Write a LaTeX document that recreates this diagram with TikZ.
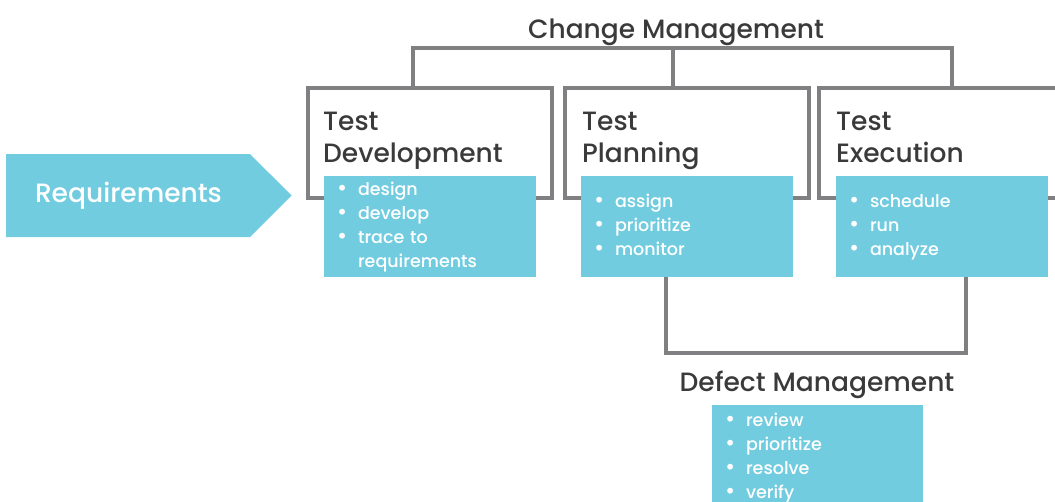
\documentclass[tikz,border=0pt]{standalone}
\usepackage{fontspec}
\setmainfont{Poppins Medium}
\usetikzlibrary{positioning,shapes.symbols}

\definecolor{taskblue}{RGB}{114,204,224}
\definecolor{framegray}{RGB}{128,128,130}
\definecolor{labelgray}{RGB}{58,58,58}

% one bullet line, and a follow-on line under the same bullet
\newcommand{\task}[1]{\strut\makebox[21pt][l]{\fontsize{22}{24}\selectfont\textbullet}#1}
\newcommand{\more}[1]{\strut\hspace*{21pt}#1}

\tikzset{
  stagebox/.style={draw=framegray, line width=4pt, anchor=north west,
    minimum width=244pt, minimum height=110pt, inner sep=0, outer sep=0},
  stagetitle/.style={anchor=north west, inner sep=0, align=left,
    text=labelgray, font=\fontsize{26.5}{32}\selectfont},
  taskbox/.style={fill=taskblue, anchor=north west, text=white, align=left,
    text width=186pt, inner xsep=13pt, inner ysep=0, outer sep=0,
    minimum height=101pt, font=\fontsize{17.5}{24}\selectfont},
  bracket/.style={draw=framegray, line width=4pt},
  heading/.style={anchor=base, inner sep=0, text=labelgray,
    font=\fontsize{26.5}{32}\selectfont},
}

\begin{document}
\begin{tikzpicture}[x=1pt, y=-1pt]
  \useasboundingbox (0,0) rectangle (1055,501);
  \clip (0,0) rectangle (1055,501);

  % input arrow
  \node[signal, signal to=east, signal pointer angle=90, fill=taskblue,
    text=white, anchor=west, minimum height=83pt, text width=186pt,
    align=left, inner xsep=29pt, outer sep=0,
    font=\fontsize{26.5}{32}\selectfont] (req) at (6,195.5) {Requirements};

  % the three stages
  \node[stagebox] (dev) at (308,88) {};
  \node[stagebox] (plan) at (565,88) {};
  \node[stagebox] (exe) at (819,88) {};

  \node[stagetitle, below right=19.6pt and 15pt of dev.north west] (devtitle) {\strut Test\\Development};
  \node[stagetitle, below right=19.6pt and 17pt of plan.north west] (plantitle) {\strut Test\\Planning};
  \node[stagetitle, below right=19.6pt and 17pt of exe.north west] (exetitle) {\strut Test\\Execution};

  \node[taskbox] (devtasks) at (324,176) {\task{design}\\\task{develop}\\\task{trace to}\\\more{requirements}};
  \node[taskbox] (plantasks) at (581,176) {\task{assign}\\\task{prioritize}\\\task{monitor}};
  \node[taskbox] (exetasks) at (836,176) {\task{schedule}\\\task{run}\\\task{analyze}};

  % change management spans all stages
  \node[heading] (change) at (676,38) {Change Management};
  \coordinate (cmbar) at (673,48);
  \draw[bracket] ([xshift=105pt]dev.north west) |- (cmbar) -| ([xshift=133pt]exe.north west);
  \draw[bracket] (cmbar) -- ([xshift=108pt]plan.north west);

  % defect management under planning and execution
  \coordinate (dmbar) at (816,353);
  \draw[bracket] ([xshift=85pt]plantasks.south west) |- (dmbar) -| ([xshift=130pt]exetasks.south west);
  \node[heading] (defect) at (817,391) {Defect Management};
  \node[taskbox, text width=185pt, minimum height=105pt] (defecttasks) at (712,405)
    {\task{review}\\\task{prioritize}\\\task{resolve}\\\task{verify}};
\end{tikzpicture}
\end{document}
